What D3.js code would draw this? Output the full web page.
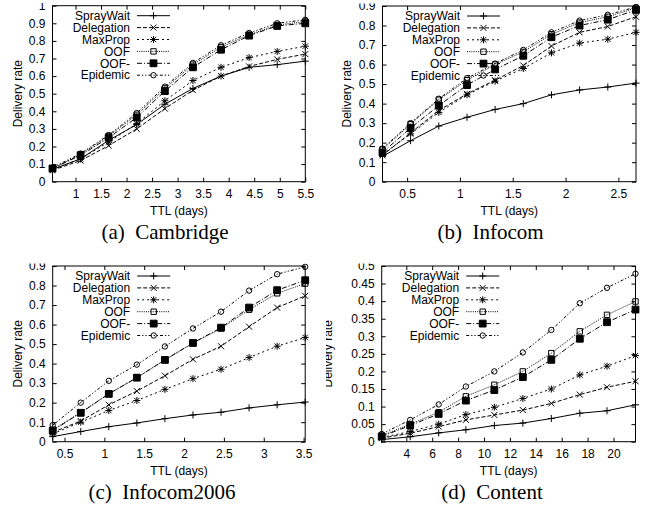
<!DOCTYPE html>
<html>
<head>
<meta charset="utf-8">
<script src="https://cdn.jsdelivr.net/npm/d3@7"></script>
<style>
  body { margin: 0; background: #fff; }
  svg { display: block; }
  text { font-family: "Liberation Sans", Arial, sans-serif; font-size: 12px; fill: #000; }
  text.caption { font-family: "Liberation Serif", "Times New Roman", serif; font-size: 21px; }
</style>
</head>
<body>
<svg id="chart" width="652" height="519"></svg>
<script>
const schemes = ["SprayWait", "Delegation", "MaxProp", "OOF", "OOF-", "Epidemic"];

// (a) Cambridge
const cambridgeTTL = [0.55, 1.1, 1.65, 2.2, 2.75, 3.3, 3.85, 4.4, 4.95, 5.5];
const cambridgeRate = [
    [0.07, 0.13, 0.235, 0.325, 0.44, 0.53, 0.60, 0.65, 0.665, 0.685],
    [0.065, 0.12, 0.205, 0.30, 0.415, 0.52, 0.60, 0.655, 0.695, 0.725],
    [0.07, 0.13, 0.225, 0.33, 0.46, 0.575, 0.65, 0.705, 0.74, 0.77],
    [0.075, 0.155, 0.26, 0.38, 0.53, 0.665, 0.765, 0.835, 0.89, 0.91],
    [0.075, 0.15, 0.25, 0.365, 0.515, 0.65, 0.75, 0.83, 0.885, 0.90],
    [0.08, 0.16, 0.265, 0.39, 0.54, 0.675, 0.775, 0.845, 0.90, 0.92]
];
const cambridgeXTicks = [1, 1.5, 2, 2.5, 3, 3.5, 4, 4.5, 5, 5.5];
const cambridgeYTicks = [0, 0.1, 0.2, 0.3, 0.4, 0.5, 0.6, 0.7, 0.8, 0.9, 1];

// (b) Infocom
const infocomTTL = [0.267, 0.533, 0.8, 1.067, 1.333, 1.6, 1.867, 2.133, 2.4, 2.667];
const infocomRate = [
    [0.13, 0.21, 0.285, 0.33, 0.37, 0.40, 0.445, 0.47, 0.485, 0.505],
    [0.135, 0.25, 0.365, 0.45, 0.52, 0.595, 0.695, 0.765, 0.795, 0.845],
    [0.14, 0.245, 0.355, 0.445, 0.515, 0.58, 0.66, 0.71, 0.73, 0.765],
    [0.165, 0.295, 0.42, 0.52, 0.60, 0.665, 0.755, 0.815, 0.845, 0.89],
    [0.15, 0.275, 0.39, 0.495, 0.575, 0.645, 0.74, 0.80, 0.83, 0.88],
    [0.17, 0.30, 0.425, 0.53, 0.605, 0.675, 0.765, 0.825, 0.855, 0.895]
];
const infocomXTicks = [0.5, 1, 1.5, 2, 2.5];
const infocomYTicks = [0, 0.1, 0.2, 0.3, 0.4, 0.5, 0.6, 0.7, 0.8, 0.9];

// (c) Infocom2006
const infocom06TTL = [0.352, 0.704, 1.056, 1.408, 1.76, 2.112, 2.464, 2.816, 3.168, 3.52];
const infocom06Rate = [
    [0.026, 0.052, 0.077, 0.096, 0.118, 0.137, 0.151, 0.173, 0.189, 0.203],
    [0.048, 0.106, 0.189, 0.259, 0.338, 0.422, 0.489, 0.589, 0.687, 0.747],
    [0.04, 0.10, 0.16, 0.211, 0.268, 0.323, 0.371, 0.431, 0.489, 0.534],
    [0.06, 0.15, 0.245, 0.328, 0.419, 0.505, 0.58, 0.676, 0.76, 0.81],
    [0.057, 0.148, 0.245, 0.328, 0.419, 0.506, 0.584, 0.687, 0.776, 0.827],
    [0.085, 0.20, 0.312, 0.395, 0.488, 0.58, 0.666, 0.774, 0.858, 0.896]
];
const infocom06XTicks = [0.5, 1, 1.5, 2, 2.5, 3, 3.5];
const infocom06YTicks = [0, 0.1, 0.2, 0.3, 0.4, 0.5, 0.6, 0.7, 0.8, 0.9];

// (d) Content
const contentTTL = [2.1, 4.3, 6.5, 8.6, 10.8, 13.0, 15.2, 17.4, 19.5, 21.7];
const contentRate = [
    [0.006, 0.014, 0.025, 0.034, 0.046, 0.053, 0.066, 0.081, 0.088, 0.105],
    [0.01, 0.024, 0.043, 0.062, 0.076, 0.09, 0.109, 0.134, 0.155, 0.172],
    [0.012, 0.029, 0.05, 0.077, 0.098, 0.123, 0.15, 0.19, 0.215, 0.245],
    [0.017, 0.05, 0.084, 0.129, 0.162, 0.20, 0.252, 0.314, 0.361, 0.399],
    [0.015, 0.046, 0.079, 0.117, 0.147, 0.184, 0.233, 0.293, 0.34, 0.376],
    [0.022, 0.062, 0.106, 0.157, 0.20, 0.254, 0.318, 0.394, 0.438, 0.478]
];
const contentXTicks = [4, 6, 8, 10, 12, 14, 16, 18, 20];
const contentYTicks = [0, 0.05, 0.1, 0.15, 0.2, 0.25, 0.3, 0.35, 0.4, 0.45, 0.5];

// gnuplot-ish line types and point types, one per scheme
const dashes = [null, "4,2", "2,3", "1,1.2", "5,2,1,2", "3,2,1.2,2,1.2,2"];
const markers = [
    { d: "M-3.5,0H3.5M0,-3.5V3.5", fill: "none" },
    { d: "M-3,-3L3,3M-3,3L3,-3", fill: "none" },
    { d: "M-3.5,0H3.5M0,-3.5V3.5M-2.7,-2.7L2.7,2.7M-2.7,2.7L2.7,-2.7", fill: "none" },
    { d: "M-2.7,-2.7H2.7V2.7H-2.7Z", fill: "none" },
    { d: "M-3.4,-3.4H3.4V3.4H-3.4Z", fill: "#000" },
    { d: "M2.7,0A2.7,2.7 0 1,1 -2.7,0A2.7,2.7 0 1,1 2.7,0Z", fill: "none" }
];

class DeliveryPlot {

    constructor(_config, ttl, rate) {
        this.config = {
            parentElement: _config.parentElement,
            id: _config.id,
            left: _config.left,
            right: _config.right,
            top: _config.top,
            bottom: _config.bottom,
            yMax: _config.yMax,
            xTicks: _config.xTicks,
            yTicks: _config.yTicks,
            ylabelX: _config.ylabelX,
            caption: _config.caption,
            captionX: _config.captionX,
            crop: _config.crop
        }
        this.ttl = ttl;
        this.rate = rate;
        this.initVis();
    }

    initVis() {
        let vis = this;
        const c = vis.config;

        // each subfigure is cropped a little, like the scanned page
        d3.select(c.parentElement).select("defs").append("clipPath")
            .attr("id", "crop-" + c.id)
            .append("rect")
            .attr("x", c.crop.x).attr("y", c.crop.y)
            .attr("width", c.crop.w).attr("height", c.crop.h);

        vis.chartArea = d3.select(c.parentElement).append("g")
            .attr("clip-path", "url(#crop-" + c.id + ")");

        vis.xScale = d3.scaleLinear()
            .domain(d3.extent(vis.ttl))
            .range([c.left, c.right]);
        vis.yScale = d3.scaleLinear()
            .domain([0, c.yMax])
            .range([c.bottom, c.top]);

        vis.renderVis();
    }

    renderVis() {
        let vis = this;
        const c = vis.config;
        const fmt = d => d === 0 ? "0" : String(+d.toFixed(2));
        const noDomain = g => g.select(".domain").remove();

        // axes with inward ticks, mirrored on top and right
        vis.chartArea.append("g")
            .attr("transform", `translate(${c.left},0)`)
            .call(d3.axisLeft(vis.yScale).tickValues(c.yTicks).tickFormat(fmt).tickSize(-4).tickPadding(7))
            .call(noDomain);
        vis.chartArea.append("g")
            .attr("transform", `translate(${c.right},0)`)
            .call(d3.axisRight(vis.yScale).tickValues(c.yTicks).tickFormat("").tickSize(-4))
            .call(noDomain);
        vis.chartArea.append("g")
            .attr("transform", `translate(0,${c.bottom})`)
            .call(d3.axisBottom(vis.xScale).tickValues(c.xTicks).tickFormat(fmt).tickSize(-4).tickPadding(7.5))
            .call(noDomain);
        vis.chartArea.append("g")
            .attr("transform", `translate(0,${c.top})`)
            .call(d3.axisTop(vis.xScale).tickValues(c.xTicks).tickFormat("").tickSize(-4))
            .call(noDomain);
        vis.chartArea.selectAll(".tick line").attr("stroke", "#000");

        vis.chartArea.append("rect")
            .attr("x", c.left).attr("y", c.top)
            .attr("width", c.right - c.left).attr("height", c.bottom - c.top)
            .attr("fill", "none").attr("stroke", "#000");

        // titles
        vis.chartArea.append("text")
            .attr("transform", `translate(${c.ylabelX},${(c.top + c.bottom) / 2}) rotate(-90)`)
            .attr("text-anchor", "middle")
            .text("Delivery rate");
        vis.chartArea.append("text")
            .attr("x", (c.left + c.right) / 2).attr("y", c.bottom + 33)
            .attr("text-anchor", "middle")
            .text("TTL (days)");
        vis.chartArea.append("text")
            .attr("class", "caption")
            .attr("x", c.captionX).attr("y", c.bottom + 57.5)
            .attr("text-anchor", "middle")
            .text(c.caption);

        const line = d3.line()
            .x((d, i) => vis.xScale(vis.ttl[i]))
            .y(d => vis.yScale(d));

        // one group per scheme: curve + points
        let series = vis.chartArea.selectAll(".series")
            .data(vis.rate)
            .join("g")
            .attr("class", "series");

        series.append("path")
            .attr("d", d => line(d))
            .attr("fill", "none")
            .attr("stroke", "#000")
            .attr("stroke-width", 1)
            .attr("stroke-dasharray", (d, i) => dashes[i]);

        series.each(function (d, i) {
            d3.select(this).selectAll(".pt")
                .data(d)
                .join("path")
                .attr("class", "pt")
                .attr("transform", (v, j) => `translate(${vis.xScale(vis.ttl[j])},${vis.yScale(v)})`)
                .attr("d", markers[i].d)
                .attr("fill", markers[i].fill)
                .attr("stroke", "#000")
                .attr("stroke-width", 1);
        });

        // legend, top left inside the frame
        let legend = vis.chartArea.selectAll(".legend-row")
            .data(schemes)
            .join("g")
            .attr("class", "legend-row")
            .attr("transform", (d, i) => `translate(${c.left},${c.top + 10 + i * 11.9})`);

        legend.append("text")
            .attr("x", 77.5).attr("y", 4.2)
            .attr("text-anchor", "end")
            .text(d => d);
        legend.append("line")
            .attr("x1", 84.5).attr("x2", 117.5)
            .attr("stroke", "#000")
            .attr("stroke-dasharray", (d, i) => dashes[i]);
        legend.append("path")
            .attr("transform", "translate(101,0)")
            .attr("d", (d, i) => markers[i].d)
            .attr("fill", (d, i) => markers[i].fill)
            .attr("stroke", "#000");
    }
}

d3.select("#chart").append("defs");

new DeliveryPlot({
    parentElement: "#chart", id: "a",
    left: 52.5, right: 305.3, top: 5.7, bottom: 181.7, yMax: 1,
    xTicks: cambridgeXTicks, yTicks: cambridgeYTicks, ylabelX: 21.6,
    caption: "(a)\u00a0\u00a0Cambridge", captionX: 165,
    crop: { x: 0, y: 3, w: 322, h: 256 }
}, cambridgeTTL, cambridgeRate);

new DeliveryPlot({
    parentElement: "#chart", id: "b",
    left: 382.5, right: 636, top: 6, bottom: 181.7, yMax: 0.9,
    xTicks: infocomXTicks, yTicks: infocomYTicks, ylabelX: 351.3,
    caption: "(b)\u00a0\u00a0Infocom", captionX: 490.5,
    crop: { x: 322, y: 3.5, w: 330, h: 256 }
}, infocomTTL, infocomRate);

new DeliveryPlot({
    parentElement: "#chart", id: "c",
    left: 52.7, right: 305.2, top: 266, bottom: 441.7, yMax: 0.9,
    xTicks: infocom06XTicks, yTicks: infocom06YTicks, ylabelX: 21.6,
    caption: "(c)\u00a0\u00a0Infocom2006", captionX: 162,
    crop: { x: 0, y: 263.5, w: 322, h: 256 }
}, infocom06TTL, infocom06Rate);

new DeliveryPlot({
    parentElement: "#chart", id: "d",
    left: 381.7, right: 635.5, top: 266, bottom: 441.7, yMax: 0.5,
    xTicks: contentXTicks, yTicks: contentYTicks, ylabelX: 331.5,
    caption: "(d)\u00a0\u00a0Content", captionX: 492,
    crop: { x: 326, y: 263.5, w: 326, h: 256 }
}, contentTTL, contentRate);
</script>
</body>
</html>
